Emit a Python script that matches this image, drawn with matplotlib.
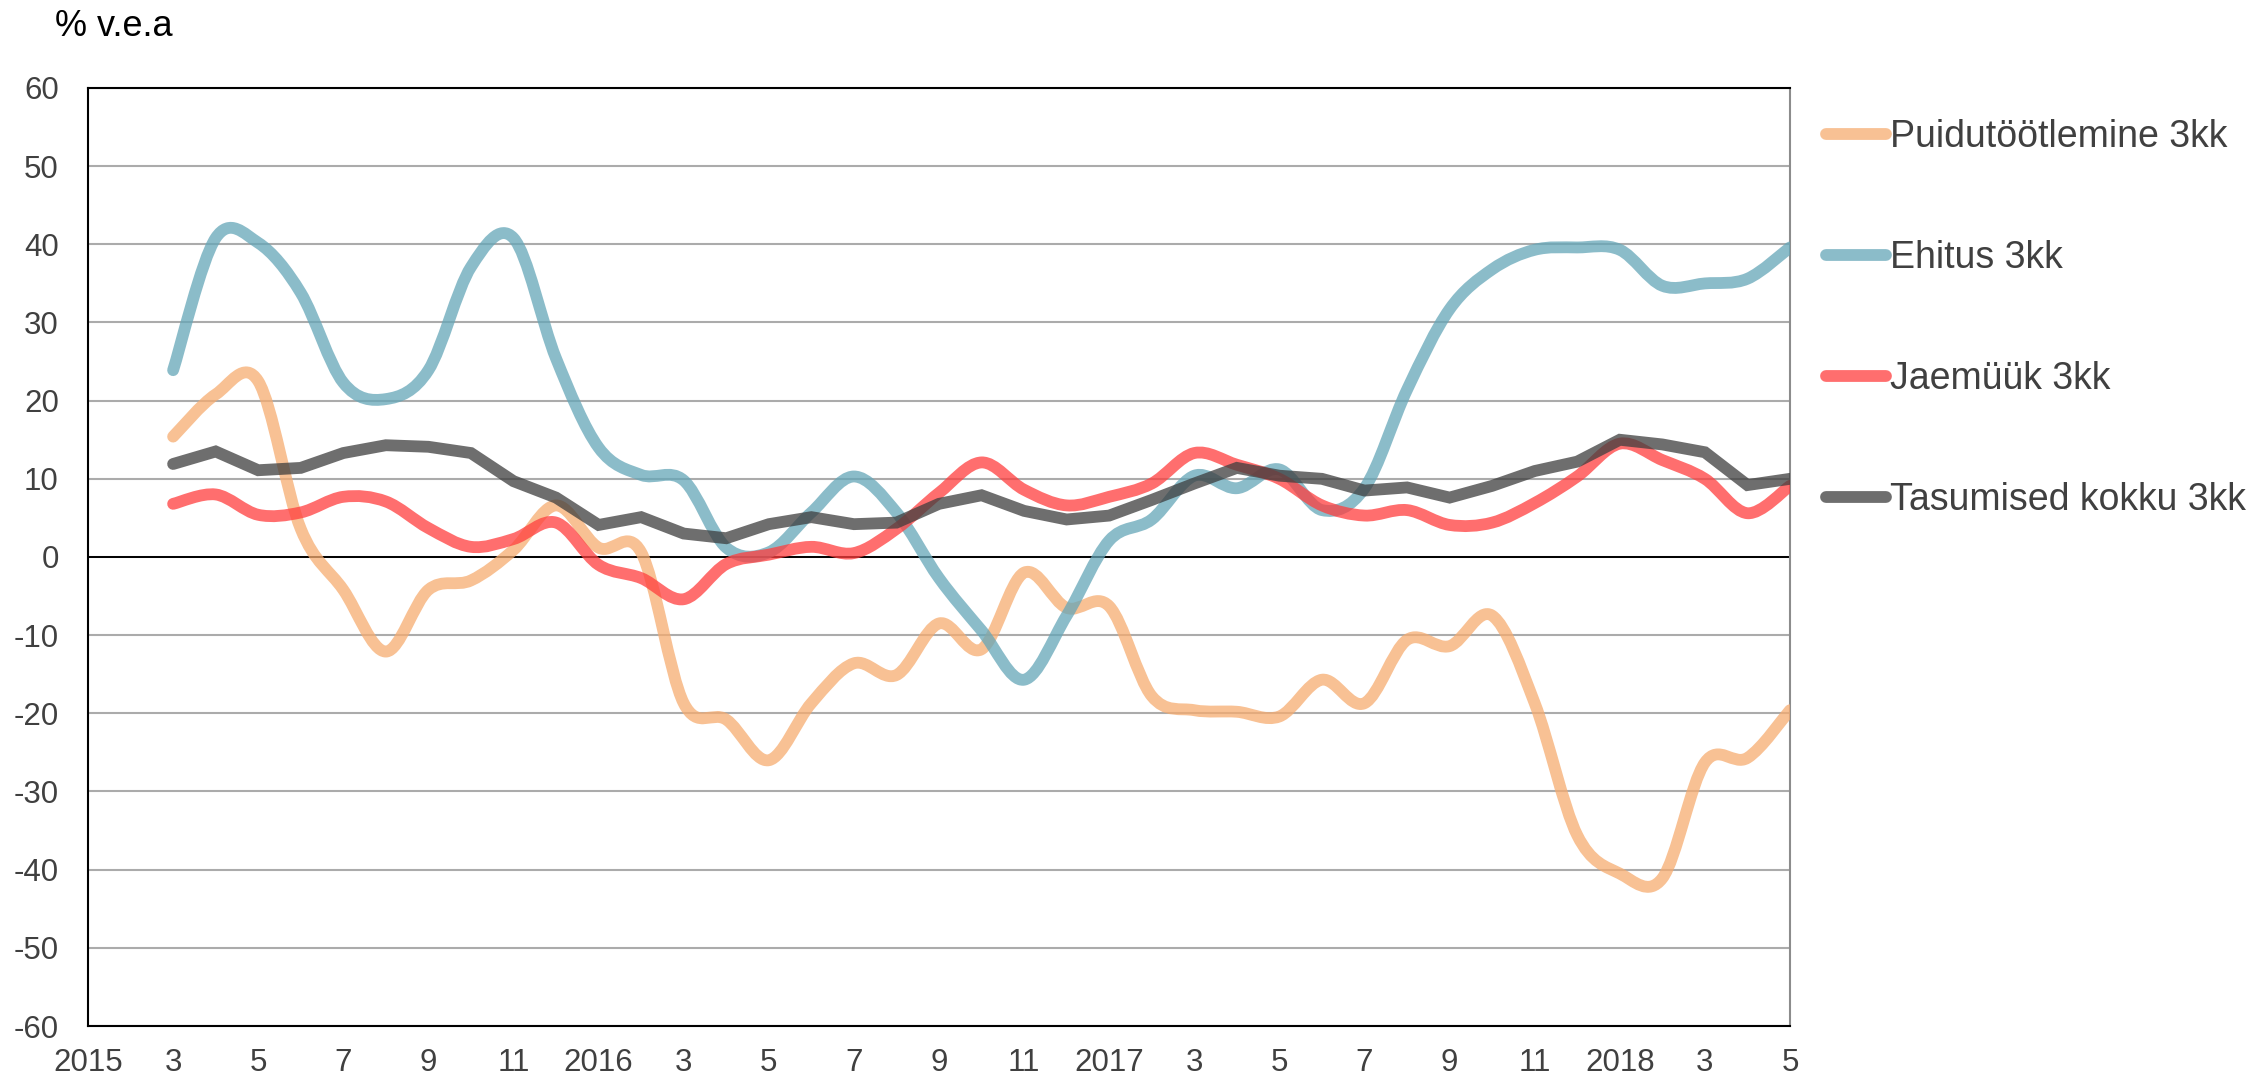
import numpy as np
import matplotlib
matplotlib.use("Agg")
import matplotlib.pyplot as plt
from matplotlib.path import Path
from matplotlib.patches import PathPatch
from matplotlib.lines import Line2D

plt.rcParams['font.family'] = ['Liberation Sans', 'DejaVu Sans']
plt.rcParams['axes.unicode_minus'] = False

# ---------------------------------------------------------------------------
# Data: monthly values, March 2015 .. May 2018 (category index 0 = Jan 2015)
# ---------------------------------------------------------------------------
first_month = 2
tick_labels = ['2015', '3', '5', '7', '9', '11',
               '2016', '3', '5', '7', '9', '11',
               '2017', '3', '5', '7', '9', '11',
               '2018', '3', '5']

puidu = [15.4, 20.8, 22.5, 3.6, -4.2, -12.1, -4.2, -3.0, 0.9, 6.6,
         1.2, 0.6, -18.7, -20.8, -26.0, -18.7, -13.6, -15.1, -8.5, -11.8,
         -2.0, -6.5, -6.3, -17.8, -19.6, -19.8, -20.4, -15.7, -18.7, -10.6,
         -11.4, -7.5, -18.7, -35.6, -40.5, -41.1, -26.3, -25.7, -19.6]

ehitus = [23.9, 40.8, 40.2, 33.8, 22.3, 20.2, 23.9, 37.1, 40.8, 25.4,
          14.0, 10.5, 9.8, 1.2, 0.6, 5.7, 10.3, 5.7, -2.7, -9.4,
          -15.7, -7.5, 2.1, 4.8, 10.4, 8.8, 11.2, 6.0, 8.8, 21.4,
          31.7, 36.8, 39.3, 39.6, 39.3, 34.7, 35.0, 35.6, 39.6]

jaemuuk = [6.8, 8.0, 5.4, 5.7, 7.7, 7.1, 3.7, 1.3, 2.3, 4.4,
           -1.0, -2.7, -5.4, -0.9, 0.3, 1.3, 0.5, 3.6, 8.2, 12.1,
           8.6, 6.6, 7.7, 9.4, 13.3, 11.8, 10.0, 6.6, 5.3, 6.0,
           4.1, 4.4, 6.9, 10.3, 14.5, 12.4, 10.0, 5.6, 9.1]

tasumised = [11.9, 13.5, 11.1, 11.4, 13.3, 14.3, 14.1, 13.3, 9.7, 7.6,
             4.1, 5.1, 3.0, 2.4, 4.2, 5.1, 4.2, 4.4, 6.8, 7.9,
             5.9, 4.8, 5.3, 7.3, 9.4, 11.4, 10.4, 10.0, 8.5, 8.9,
             7.6, 9.1, 11.0, 12.2, 15.0, 14.4, 13.4, 9.2, 10.0]

labels = ['Puidutöötlemine 3kk', 'Ehitus 3kk', 'Jaemüük 3kk',
          'Tasumised kokku 3kk']
colors = ['#F6AC70', '#65A6B8', '#FF3E3E', '#3E3E3E']
ALPHA = 0.75


def smooth_path(x, y):
    """Catmull-Rom style smoothed path (like a spreadsheet 'smoothed line')."""
    pts = np.column_stack([x, y]).astype(float)
    ext = np.vstack([pts[0], pts, pts[-1]])
    verts = [pts[0]]
    codes = [Path.MOVETO]
    for i in range(len(pts) - 1):
        p0, p1, p2, p3 = ext[i], ext[i + 1], ext[i + 2], ext[i + 3]
        verts += [p1 + (p2 - p0) / 6.0, p2 - (p3 - p1) / 6.0, p2]
        codes += [Path.CURVE4] * 3
    return Path(verts, codes)


fig = plt.figure(figsize=(22.53, 10.81), dpi=100)
ax = fig.add_axes([88 / 2253, 1 - 1026 / 1081, (1790 - 88) / 2253, (1026 - 88) / 1081])

x = np.arange(first_month, first_month + len(puidu))
LW = 8.5

# smoothed series
for vals, col in zip([puidu, ehitus, jaemuuk], colors[:3]):
    ax.add_patch(PathPatch(smooth_path(x, vals), fill=False, edgecolor=col,
                           lw=LW, alpha=ALPHA, capstyle='round',
                           joinstyle='round', zorder=3))
# straight series
ax.plot(x, tasumised, color=colors[3], lw=LW, alpha=ALPHA,
        solid_capstyle='round', solid_joinstyle='miter', zorder=4)

n_months = first_month + len(puidu) - 1
ax.set_xlim(0, n_months)
ax.set_ylim(-60, 60)
ax.set_yticks(np.arange(-60, 61, 10))
ax.set_xticks(np.arange(0, n_months + 1, 2))
ax.set_xticklabels(tick_labels)

ax.yaxis.grid(True, color='#ABABAB', lw=1.5, zorder=0)
ax.set_axisbelow(True)
ax.axhline(0, color='black', lw=1.4, zorder=2)

for side in ['left', 'top', 'bottom']:
    ax.spines[side].set_color('black')
    ax.spines[side].set_linewidth(1.5)
ax.spines['right'].set_color('#8C8C8C')
ax.spines['right'].set_linewidth(1.5)

ax.tick_params(axis='both', length=0, labelsize=22.5, colors='#404040')
ax.tick_params(axis='y', pad=21)
ax.tick_params(axis='x', pad=16)

fig.text(55 / 2253, 1 - 27 / 1081, '% v.e.a', fontsize=26, color='black',
         ha='left', va='center')

handles = [Line2D([0], [0], color=c, lw=LW, alpha=ALPHA, solid_capstyle='round')
           for c in colors]
fig.legend(handles, labels, loc='upper left',
           bbox_to_anchor=(1826 / 2253, 1 - 119 / 1081),
           frameon=False, fontsize=27, labelcolor='#404040',
           handlelength=1.6, handletextpad=0.1, labelspacing=2.27,
           borderpad=0, borderaxespad=0)

fig.savefig('out.png', dpi=100)
